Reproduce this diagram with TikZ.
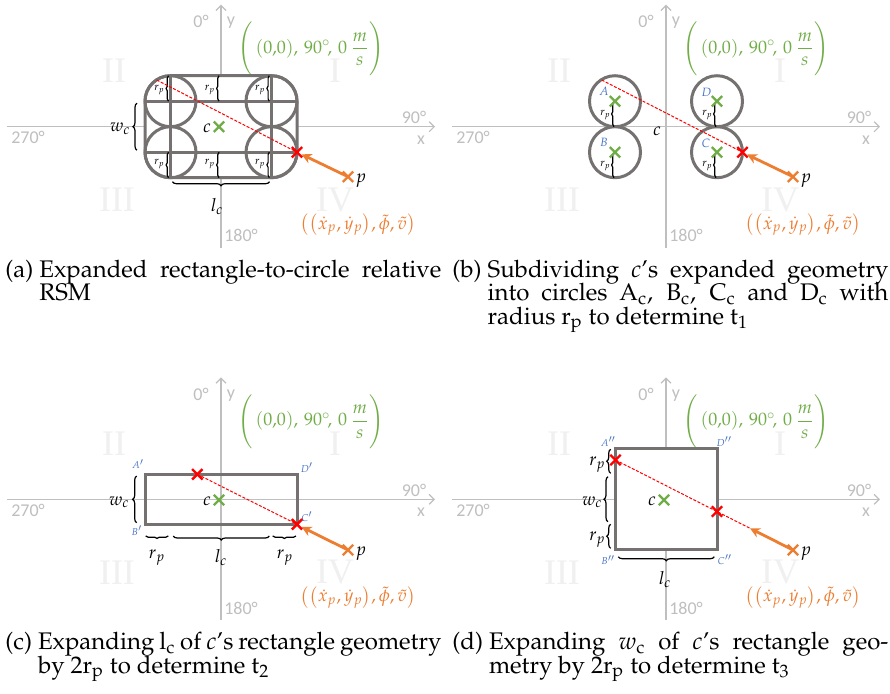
\documentclass[tikz,border=0pt]{standalone}
\usepackage{mathpazo}
\usepackage[T1]{fontenc}
\usepackage[no-math]{fontspec}
\newfontfamily\calib{Carlito}
\newfontfamily\libser{Liberation Serif}
\newcommand\palfont{\fontencoding{T1}\fontfamily{ppl}\selectfont}
\usetikzlibrary{arrows.meta,decorations.pathreplacing,shapes.misc}
\definecolor{axisgray}{HTML}{BFBFBF}
\definecolor{quadgray}{HTML}{F0F0F0}
\definecolor{shapegray}{HTML}{767171}
\definecolor{grn}{HTML}{70AD47}
\definecolor{orng}{HTML}{ED7D31}
\definecolor{blu}{HTML}{4472C4}
\newcommand\subcapt[2]{\parbox[t]{218pt}{\palfont\fontsize{12}{11.75}\selectfont
  \lineskiplimit=-20pt\tolerance=9999\hyphenpenalty=10000\exhyphenpenalty=10000
  \setbox0\hbox{(#1)\hskip 3pt}\hangindent=\wd0\hangafter=1\noindent\box0 #2}}
\newcommand\panelbg[1]{%
  \node[quad] (#1-q2) at (-107,-56) {II};
  \node[quad] (#1-q1) at (114,-56) {I};
  \node[quad] (#1-q3) at (-104,73) {III};
  \node[quad] (#1-q4) at (114,73) {IV};
  \coordinate (#1-xl) at (-214,0);
  \coordinate (#1-xr) at (214,0);
  \coordinate (#1-yb) at (0,121);
  \coordinate (#1-yt) at (0,-122);
  \draw[axisline] (#1-xl) -- (#1-xr);
  \draw[axisline] (#1-yb) -- (#1-yt);
  \node[axlab] (#1-l0) at (-20,-105) {0°};
  \node[axlab] (#1-ly) at (10,-104) {y};
  \node[axlab] (#1-l90) at (193,-9) {90°};
  \node[axlab] (#1-l270) at (-193,11) {270°};
  \node[axlab] (#1-lx) at (200,13) {x};
  \node[axlab] (#1-l180) at (20,109) {180°};
  \node[grnlab] (#1-state) at (90,-78) {$\Bigg(\,(0{,}0),\,90^{\circ}\!,\,0\,{\displaystyle\frac{m}{s}}\Bigg)$};
  \node[orglab] (#1-pstate) at (137,98) {$\bigl(\left(\dot{x}_p,\dot{y}_p\right)\!,\tilde{\phi},\tilde{v}\bigr)$};
}
\tikzset{
  axisline/.style={draw=axisgray, line width=0.6pt, -{Straight Barb[length=2.5pt,width=5pt]}},
  axlab/.style={text=axisgray, font=\calib\fontsize{9}{10}\selectfont, inner sep=0},
  quad/.style={text=quadgray, font=\libser\fontsize{18}{20}\selectfont, inner sep=0},
  shapeline/.style={draw=shapegray, line width=1.5pt},
  hitline/.style={draw=red, line width=0.5pt, dash pattern=on 1.5pt off 0.8pt},
  mv/.style={draw=orng, line width=1.4pt, -{Stealth[length=5pt,width=5pt]}},
  hit/.style={cross out, draw=red, line width=1.2pt, minimum size=4pt, inner sep=0},
  ctr/.style={cross out, draw=grn, line width=1.2pt, minimum size=4pt, inner sep=0},
  pcross/.style={cross out, draw=orng, line width=1.2pt, minimum size=4pt, inner sep=0},
  brc/.style={decorate, decoration={brace, amplitude=2pt}, draw=black, line width=0.6pt},
  smallbrc/.style={decorate, decoration={brace, amplitude=1.2pt}, draw=black, line width=0.6pt},
  mlab/.style={font=\fontsize{9}{11}\selectfont, inner sep=0},
  rplab/.style={font=\fontsize{5.5}{6}\selectfont, inner sep=0},
  cornlab/.style={text=blu, font=\fontsize{5}{6}\selectfont, inner sep=0},
  circlab/.style={text=blu, font=\fontsize{6}{7}\selectfont, inner sep=0},
  grnlab/.style={text=grn, font=\fontsize{9}{11}\selectfont, inner sep=0},
  orglab/.style={text=orng, font=\fontsize{9}{11}\selectfont, inner sep=0},
}
\begin{document}
\begin{tikzpicture}[x=0.5pt,y=-0.5pt]
\useasboundingbox (0,0) rectangle (890,693);
\fill[white] (0,0) rectangle (890,693);

% ---------------- (a)
\begin{scope}[shift={(221,126.7)}]
  \panelbg{a}
  \draw[shapeline,fill=white,rounded corners=12.75pt] (-76,-51) rectangle (76,51);
  \coordinate (a-v1t) at (-50.5,-51); \coordinate (a-v1b) at (-50.5,51);
  \coordinate (a-v2t) at (50.5,-51);  \coordinate (a-v2b) at (50.5,51);
  \coordinate (a-h1l) at (-76,-25.5); \coordinate (a-h1r) at (76,-25.5);
  \coordinate (a-h2l) at (-76,25.5);  \coordinate (a-h2r) at (76,25.5);
  \draw[shapeline] (a-v1t) -- (a-v1b) (a-v2t) -- (a-v2b) (a-h1l) -- (a-h1r) (a-h2l) -- (a-h2r);
  \coordinate (a-A) at (-50.5,-25.5); \coordinate (a-B) at (-50.5,25.5);
  \coordinate (a-C) at (50.5,25.5);   \coordinate (a-D) at (50.5,-25.5);
  \draw[shapeline] (a-A) circle[radius=25.5] (a-B) circle[radius=25.5]
                   (a-C) circle[radius=25.5] (a-D) circle[radius=25.5];
  % rp braces
  \draw[smallbrc] (-52.5,-25.5) -- (-52.5,-51);
  \draw[smallbrc] (-2,-25.5) -- (-2,-51);
  \draw[smallbrc] (48.3,-25.5) -- (48.3,-51);
  \draw[smallbrc] (-52.5,51) -- (-52.5,25.5);
  \draw[smallbrc] (-2,51) -- (-2,25.5);
  \draw[smallbrc] (48.3,51) -- (48.3,25.5);
  \node[rplab,anchor=east] (a-rp1) at (-56,-37) {$r_p$};
  \node[rplab,anchor=east] (a-rp2) at (-5.5,-37) {$r_p$};
  \node[rplab,anchor=east] (a-rp3) at (44.8,-37) {$r_p$};
  \node[rplab,anchor=east] (a-rp4) at (-56,37) {$r_p$};
  \node[rplab,anchor=east] (a-rp5) at (-5.5,37) {$r_p$};
  \node[rplab,anchor=east] (a-rp6) at (44.8,37) {$r_p$};
  % wc, lc
  \draw[brc] (-84,23.5) -- (-84,-23.5);
  \node[mlab,anchor=east] (a-wc) at (-90,2) {$w_c$};
  \draw[brc] (48.5,55) -- (-48.5,55);
  \node[mlab] (a-lc) at (-4,80) {$l_c$};
  % centre
  \node[ctr] (a-c) at (-2,0) {};
  \node[mlab] (a-clab) at (-14,1.5) {$c$};
  % hit line
  \coordinate (a-s) at (-64.3,-46.7);
  \node[hit] (a-h) at (76,25.5) {};
  \draw[hitline] (a-s) -- (a-h.center);
  \node[pcross] (a-p) at (127,50) {};
  \node[mlab] (a-plab) at (140,54) {$p$};
  \coordinate (a-tip) at (80.5,27.6);
  \draw[mv] (a-p.center) -- (a-tip);
\end{scope}

% ---------------- (b)
\begin{scope}[shift={(666,126.7)}]
  \panelbg{b}
  \coordinate (b-A) at (-51,-25.5); \coordinate (b-B) at (-51,25.5);
  \coordinate (b-C) at (51,25.5);   \coordinate (b-D) at (51,-25.5);
  \draw[shapeline,fill=white] (b-A) circle[radius=25.5];
  \draw[shapeline,fill=white] (b-B) circle[radius=25.5];
  \draw[shapeline,fill=white] (b-C) circle[radius=25.5];
  \draw[shapeline,fill=white] (b-D) circle[radius=25.5];
  \draw[smallbrc] (-52,0) -- (-52,-25.5);
  \draw[smallbrc] (-52,51) -- (-52,25.5);
  \draw[smallbrc] (50,51) -- (50,25.5);
  \draw[smallbrc] (50,0) -- (50,-25.5);
  \node[rplab,anchor=east] (b-rpA) at (-55,-11.5) {$r_p$};
  \node[rplab,anchor=east] (b-rpB) at (-55,39) {$r_p$};
  \node[rplab,anchor=east] (b-rpC) at (47,39) {$r_p$};
  \node[rplab,anchor=east] (b-rpD) at (47,-11.5) {$r_p$};
  \node[ctr] (b-Ax) at (b-A) {};
  \node[ctr] (b-Bx) at (b-B) {};
  \node[ctr] (b-Cx) at (b-C) {};
  \node[ctr] (b-Dx) at (b-D) {};
  \node[circlab] (b-Al) at (-62,-35) {$A$};
  \node[circlab] (b-Bl) at (-62,16) {$B$};
  \node[circlab] (b-Cl) at (40,16.5) {$C$};
  \node[circlab] (b-Dl) at (40.5,-34.5) {$D$};
  \node[mlab] (b-clab) at (-9,5) {$c$};
  \coordinate (b-s) at (-64.3,-46.7);
  \node[hit] (b-h) at (76.5,25.5) {};
  \draw[hitline] (b-s) -- (b-h.center);
  \node[pcross] (b-p) at (127,50) {};
  \node[mlab] (b-plab) at (140,54) {$p$};
  \coordinate (b-tip) at (81,27.8);
  \draw[mv] (b-p.center) -- (b-tip);
\end{scope}

% ---------------- (c)
\begin{scope}[shift={(221,499.3)}]
  \panelbg{c}
  \coordinate (c-A) at (-76,-25); \coordinate (c-C) at (76,25);
  \draw[shapeline] (c-A) rectangle (c-C);
  \node[cornlab] (c-Al) at (-83,-35.3) {$A'$};
  \node[cornlab] (c-Dl) at (86,-31.6) {$D'$};
  \node[cornlab] (c-Cl) at (86,17.4) {$C'$};
  \node[cornlab] (c-Bl) at (-84,31.4) {$B'$};
  \draw[smallbrc] (-52.7,36.7) -- (-75.3,36.7);
  \draw[brc] (48.3,36.7) -- (-47.7,36.7);
  \draw[smallbrc] (75,36.7) -- (51.7,36.7);
  \node[mlab] (c-rp1) at (-64,58) {$r_p$};
  \node[mlab] (c-lc) at (0,58) {$l_c$};
  \node[mlab] (c-rp2) at (64,58) {$r_p$};
  \draw[brc] (-84.3,23.4) -- (-84.3,-23.3);
  \node[mlab,anchor=east] (c-wc) at (-91,3) {$w_c$};
  \node[ctr] (c-c) at (-2,0.7) {};
  \node[mlab] (c-clab) at (-14,1.5) {$c$};
  \node[hit] (c-h1) at (-23.7,-25) {};
  \node[hit] (c-h2) at (76,25) {};
  \draw[hitline] (c-h1.center) -- (c-h2.center);
  \node[pcross] (c-p) at (127,50.7) {};
  \node[mlab] (c-plab) at (140,54) {$p$};
  \coordinate (c-tip) at (80.5,27.6);
  \draw[mv] (c-p.center) -- (c-tip);
\end{scope}

% ---------------- (d)
\begin{scope}[shift={(666,499.3)}]
  \panelbg{d}
  \coordinate (d-A) at (-50.5,-50.5); \coordinate (d-C) at (51,50.5);
  \draw[shapeline,fill=white] (d-A) rectangle (d-C);
  \node[cornlab] (d-Al) at (-57.7,-57.6) {$A''$};
  \node[cornlab] (d-Dl) at (58.3,-57.6) {$D''$};
  \node[cornlab] (d-Bl) at (-57.7,60.7) {$B''$};
  \node[cornlab] (d-Cl) at (59,60.7) {$C''$};
  \draw[brc] (-55.3,-26) -- (-55.3,-50);
  \draw[brc] (-58,22.4) -- (-58,-22.6);
  \draw[brc] (-55.3,49) -- (-55.3,25);
  \node[mlab,anchor=east] (d-rp1) at (-60,-35) {$r_p$};
  \node[mlab,anchor=east] (d-wc) at (-63,3) {$w_c$};
  \node[mlab,anchor=east] (d-rp2) at (-60,40) {$r_p$};
  \draw[brc] (48.3,57.4) -- (-47.7,57.4);
  \node[mlab] (d-lc) at (-1,80) {$l_c$};
  \node[ctr] (d-c) at (-2,0.7) {};
  \node[mlab] (d-clab) at (-14,1.5) {$c$};
  \node[hit] (d-h1) at (-50.5,-39.3) {};
  \node[hit] (d-h2) at (51,12.2) {};
  \coordinate (d-tip) at (84,29);
  \draw[hitline] (d-h1.center) -- (d-tip);
  \node[pcross] (d-p) at (127,50.7) {};
  \node[mlab] (d-plab) at (140,54) {$p$};
  \draw[mv] (d-p.center) -- (d-tip);
\end{scope}

% ---------------- captions
\node[anchor=base west, inner sep=0] (capa) at (5,277)
  {\subcapt{a}{Expanded rectangle-to-circle relative\linebreak RSM}};
\node[anchor=base west, inner sep=0] (capb) at (452,277)
  {\subcapt{b}{Subdividing $c$'s expanded geometry\linebreak into circles $\mathrm{A_c}$, $\mathrm{B_c}$, $\mathrm{C_c}$ and $\mathrm{D_c}$ with\linebreak radius $\mathrm{r_p}$ to determine $\mathrm{t_1}$}};
\node[anchor=base west, inner sep=0] (capc) at (5,649.6)
  {\subcapt{c}{Expanding $\mathrm{l_c}$ of $c$'s rectangle geometry\linebreak by $2\mathrm{r_p}$ to determine $\mathrm{t_2}$}};
\node[anchor=base west, inner sep=0] (capd) at (452,649.6)
  {\subcapt{d}{Expanding $w_{\mathrm{c}}$ of $c$'s rectangle geo-\linebreak metry by $2\mathrm{r_p}$ to determine $\mathrm{t_3}$}};
\end{tikzpicture}
\end{document}
